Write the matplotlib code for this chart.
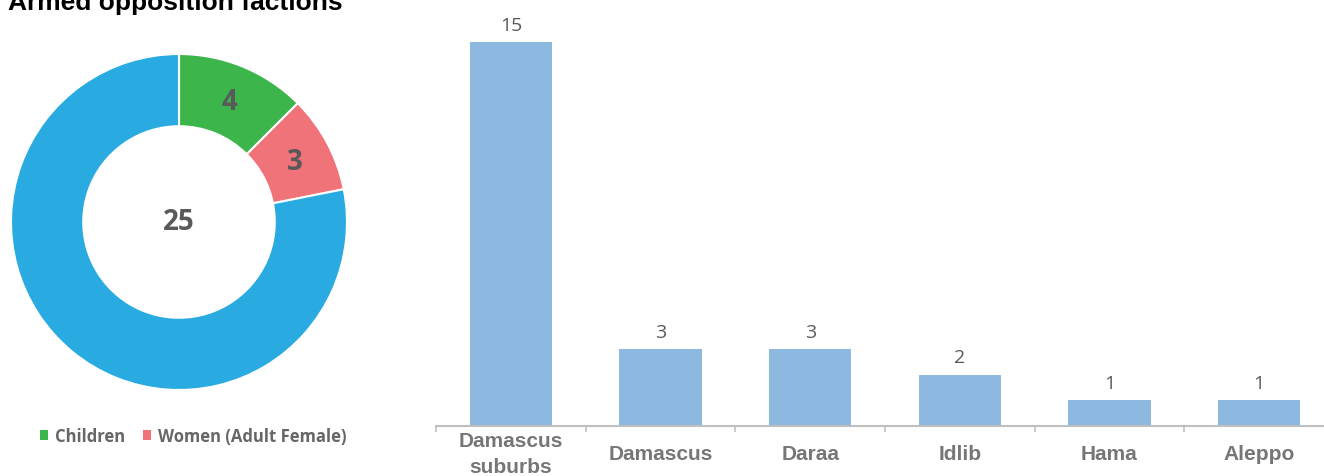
import numpy as np
import matplotlib.pyplot as plt
from matplotlib.ticker import FixedLocator

# donut data
donut_labels = ['Children', 'Women (Adult Female)', 'Men']
donut_values = [4, 3, 25]
donut_colors = ['#3CB54A', '#F0737A', '#29ABE2']

# bar data
regions = ['Damascus\nsuburbs', 'Damascus', 'Daraa', 'Idlib', 'Hama', 'Aleppo']
counts = [15, 3, 3, 2, 1, 1]
bar_color = '#8DB8E0'

W, H = 1324, 477
fig = plt.figure(figsize=(W / 100, H / 100), dpi=100)


def px_axes(left, top, width, height):
    # position in pixels measured from top-left of the figure
    return fig.add_axes([left / W, 1 - (top + height) / H, width / W, height / H])


# title, cut off at the top like in the source
fig.text(8 / W, 1 - 10 / H, 'Armed opposition factions', family='Liberation Sans',
         weight='bold', fontsize=19, color='black', ha='left', va='baseline')

# ---- donut ----
ax1 = px_axes(11, 55, 336, 336)
wedges, _ = ax1.pie(donut_values, colors=donut_colors, startangle=90, counterclock=False,
                    radius=1, wedgeprops=dict(width=1 - 0.57, edgecolor='white', linewidth=1.5))
ax1.set_xlim(-1, 1)
ax1.set_ylim(-1, 1)
ax1.set_aspect('equal')
ax1.axis('off')

num_font = dict(family='Open Sans', weight='bold', fontsize=20, color='#595959')
for w, v in zip(wedges[:2], donut_values[:2]):
    ang = np.deg2rad((w.theta1 + w.theta2) / 2)
    r = (1 + 0.57) / 2
    ax1.text(r * np.cos(ang), r * np.sin(ang) - 0.01, str(v), ha='center', va='center', **num_font)
ax1.text(0, 0.0, str(donut_values[2]), ha='center', va='center', **num_font)

leg = fig.legend(wedges[:2], donut_labels[:2], loc='center',
                 bbox_to_anchor=(193 / W, 1 - 437 / H), ncol=2, frameon=False,
                 handlelength=0.5, handleheight=0.5, handletextpad=0.4,
                 columnspacing=1.1, prop=dict(family='Open Sans', weight='bold', size=12))
for t in leg.get_texts():
    t.set_color('#666666')
for h in leg.legend_handles:
    h.set_edgecolor('none')

# ---- bars ----
n = len(regions)
step = 149.6
ax2 = px_axes(511 - step / 2, 43, step * n, 427 - 43)
x = np.arange(n)
bars = ax2.bar(x, counts, width=0.55, color=bar_color)
ax2.set_xlim(-0.5, n - 0.5)
ax2.set_ylim(0, max(counts))
for b, c in zip(bars, counts):
    ax2.annotate(str(c), (b.get_x() + b.get_width() / 2, b.get_height()),
                 xytext=(0, 6), textcoords='offset points', ha='center', va='bottom',
                 family='Open Sans', fontsize=14, color='#595959')

for s in ['top', 'right', 'left']:
    ax2.spines[s].set_visible(False)
ax2.spines['bottom'].set_color('#BFBFBF')
ax2.spines['bottom'].set_linewidth(1.5)
ax2.set_yticks([])
ax2.set_xticks(x)
ax2.set_xticklabels(regions)
ax2.xaxis.set_minor_locator(FixedLocator(np.arange(-0.5, n, 1.0)))
ax2.tick_params(axis='x', which='major', length=0, pad=20)
ax2.tick_params(axis='x', which='minor', length=4, width=1.2, color='#BFBFBF')
for lbl in ax2.get_xticklabels():
    lbl.set_va('center')
    lbl.set_family('Liberation Sans')
    lbl.set_weight('bold')
    lbl.set_fontsize(15)
    lbl.set_color('#767676')
    lbl.set_linespacing(1.45)

fig.savefig('out.png', dpi=100)
